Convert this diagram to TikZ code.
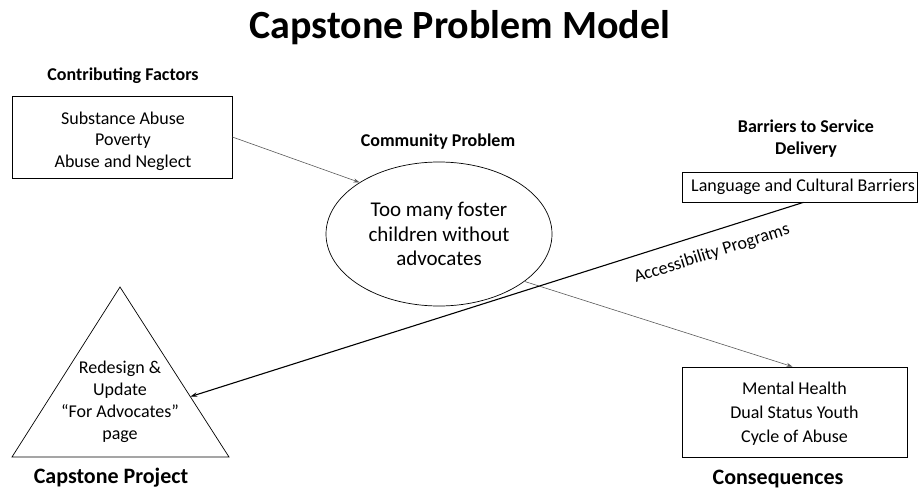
\documentclass[tikz,border=0pt]{standalone}
\usepackage{fontspec}
\setmainfont{Carlito}
\usetikzlibrary{shapes.geometric,arrows.meta,calc}
\begin{document}
\begin{tikzpicture}[x=1pt,y=-1pt,
  lbl/.style={font=\bfseries\fontsize{18}{21}\selectfont, align=center, inner sep=0pt},
  biglbl/.style={font=\bfseries\fontsize{22}{26}\selectfont, inner sep=0pt},
  txt/.style={font=\fontsize{18}{21.5}\selectfont, align=center, inner sep=0pt},
  box/.style={draw, line width=0.7pt, inner sep=0pt},
  thinarrow/.style={draw=black!65, line width=0.6pt, -{Stealth[length=6pt,width=4pt]}},
  thickarrow/.style={draw=black, line width=1.1pt, -{Stealth[length=7pt,width=4.5pt]}}
]
\useasboundingbox (0,0) rectangle (920,489);
\node[font=\bfseries\fontsize{40}{46}\selectfont, inner sep=0pt] (title) at (460,28) {Capstone Problem Model};

\node[lbl] (cflbl) at (123,76) {Contributing Factors};
\node[box, minimum width=220pt, minimum height=82pt] (cf) at (122,137) {};
\node[txt] (cftxt) at (123,141) {Substance Abuse\\Poverty\\Abuse and Neglect};

\node[lbl] (cplbl) at (438,142) {Community Problem};
\node[draw, ellipse, line width=0.7pt, minimum width=226pt, minimum height=144pt, inner sep=0pt,
  font=\fontsize{21}{24.5}\selectfont, align=center] (prob) at (439,234)
  {Too many foster\\children without\\advocates};

\node[lbl, font=\bfseries\fontsize{18}{22}\selectfont] (barlbl) at (806,139) {Barriers to Service\\Delivery};
\node[box, minimum width=235pt, minimum height=30pt] (lang) at (799.5,187) {};
\node[txt] (langtxt) at (803,187) {Language and Cultural Barriers};

\coordinate (ttop) at (120,287);
\coordinate (tbl) at (12,457);
\coordinate (tbr) at (229,457);
\draw[line width=0.7pt] (ttop) -- (tbl) -- (tbr) -- cycle;
\node[txt, font=\fontsize{18}{22}\selectfont] (proj) at (120,402)
  {Redesign \&\\Update\\“For Advocates”\\page};
\coordinate (tarr) at ($(ttop)!0.645!(tbr)$);
\node[biglbl] (projlbl) at (111,478) {Capstone Project};

\node[box, minimum width=225pt, minimum height=90pt] (cons) at (794.5,412) {};
\node[txt, font=\fontsize{18}{24}\selectfont] (constxt) at (794.5,414)
  {Mental Health\\Dual Status Youth\\Cycle of Abuse};
\node[biglbl] (conslbl) at (778,479) {Consequences};

\draw[thinarrow] (cf.east) -- (prob.147);
\draw[thinarrow] (prob.-29) -- ($(cons.north)+(-2,0)$);
\draw[thickarrow] ($(lang.south)+(4,0)$) -- node[pos=0.16, sloped, below=13pt, font=\fontsize{18}{21}\selectfont, inner sep=0pt] {Accessibility Programs} (tarr);
\end{tikzpicture}
\end{document}
